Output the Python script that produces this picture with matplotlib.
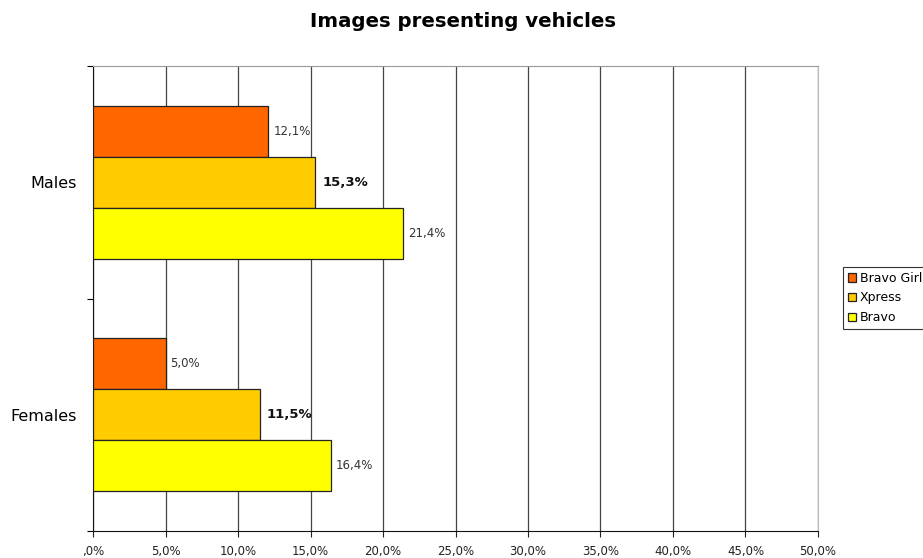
import numpy as np
import matplotlib
matplotlib.use("Agg")
import matplotlib.pyplot as plt
import matplotlib.ticker as ticker

# data
groups = ["Males", "Females"]
series = ["Bravo Girl", "Xpress", "Bravo"]
values = {
    "Bravo Girl": [12.1, 5.0],
    "Xpress": [15.3, 11.5],
    "Bravo": [21.4, 16.4],
}
bar_colors = {"Bravo Girl": "#FF6600", "Xpress": "#FFCC00", "Bravo": "#FFFF00"}
bold_series = "Xpress"

fig = plt.figure(figsize=(9.23, 5.58), dpi=100)
ax = fig.add_axes([0.1008, 0.0484, 0.7854, 0.8333])

h = 0.22
y = np.arange(len(groups))
for i, s in enumerate(series):
    pos = y + (i - 1) * h
    bars = ax.barh(pos, values[s], height=h, color=bar_colors[s],
                   edgecolor="#222222", linewidth=0.9, label=s, zorder=3)
    for b, v in zip(bars, values[s]):
        txt = ("%.1f%%" % v).replace(".", ",")
        if s == bold_series:
            ax.text(v + 0.5, b.get_y() + h / 2, txt, va="center", ha="left",
                    fontsize=9.5, fontweight="bold", color="#111111")
        else:
            ax.text(v + 0.35, b.get_y() + h / 2, txt, va="center", ha="left",
                    fontsize=8.5, color="#333333")

ax.set_xlim(0, 50)
ax.set_ylim(1.5, -0.5)
ax.set_xticks(np.arange(0, 51, 5))
ax.xaxis.set_major_formatter(ticker.FuncFormatter(
    lambda v, p: ",0%" if v == 0 else ("%.1f%%" % v).replace(".", ",")))
ax.tick_params(axis="x", labelsize=8.5, colors="#222222", length=4,
               direction="out", pad=6)

ax.set_yticks([-0.5, 0.5, 1.5])
ax.set_yticklabels([])
ax.set_yticks(y, minor=True)
ax.set_yticklabels(groups, minor=True, fontsize=11.5)
ax.tick_params(axis="y", which="major", length=4, direction="out")
ax.tick_params(axis="y", which="minor", length=0, pad=12)

ax.grid(axis="x", color="#444444", linewidth=0.9, zorder=0)
ax.set_axisbelow(True)
ax.spines["top"].set_color("#999999")
ax.spines["right"].set_color("#bbbbbb")
ax.spines["left"].set_color("#111111")
ax.spines["bottom"].set_color("#111111")

fig.suptitle("Images presenting vehicles", x=0.502, y=0.978, fontsize=14.2,
             fontweight="bold")

leg = fig.legend(loc="center left", bbox_to_anchor=(0.9135, 0.466), fontsize=9,
                 frameon=True, fancybox=False, edgecolor="black",
                 handlelength=0.7, handleheight=0.7, handletextpad=0.3,
                 borderpad=0.35, labelspacing=0.55, borderaxespad=0)
leg.get_frame().set_linewidth(0.8)

fig.savefig("out.png", dpi=100)
